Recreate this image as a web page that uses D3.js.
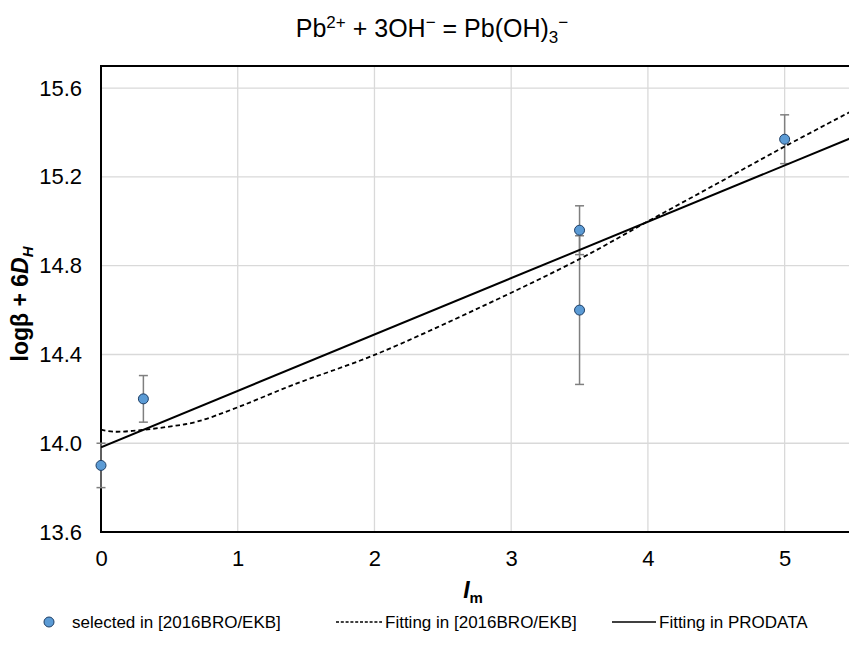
<!DOCTYPE html>
<html>
<head>
<meta charset="utf-8">
<script src="https://cdn.jsdelivr.net/npm/d3@7"></script>
<style>
  html, body { margin: 0; padding: 0; background: #fff; }
  svg { display: block; font-family: "Liberation Sans", Arial, sans-serif; }
</style>
</head>
<body>
<svg id="chart" width="849" height="649"></svg>
<script>
// ---- data ----
const pointI      = [0, 0.31, 3.5, 3.5, 5.0];
const pointLogB   = [13.90, 14.20, 14.96, 14.60, 15.37];
const pointErr    = [0.10, 0.105, 0.11, 0.335, 0.11];

const dashedI     = [0, 0.1, 0.3, 0.5, 0.7, 1.0, 1.4, 2.0, 2.8, 3.5, 4.0, 4.5, 5.0, 5.5];
const dashedLogB  = [14.061, 14.052, 14.060, 14.075, 14.097, 14.162, 14.262, 14.398, 14.62, 14.83, 15.0, 15.168, 15.337, 15.50];

const solidI      = [0, 5.5];
const solidLogB   = [13.982, 15.379];

const xTicks      = [0, 1, 2, 3, 4, 5];
const yTicks      = [13.6, 14.0, 14.4, 14.8, 15.2, 15.6];

const legendLabels = ["selected in [2016BRO/EKB]", "Fitting in [2016BRO/EKB]", "Fitting in PRODATA"];

(function () {
// ---- layout ----
const svg = d3.select("#chart");
const pL = 101, pR = 853, pT = 66, pB = 532;

const x = d3.scaleLinear().domain([0, 5.5]).range([pL, pR]);
const y = d3.scaleLinear().domain([13.6, 15.7]).range([pB, pT]);

// gridlines
const grid = svg.append("g");
grid.selectAll("line.vx").data(xTicks.filter(d => d > 0)).enter().append("line")
  .attr("x1", d => x(d)).attr("x2", d => x(d)).attr("y1", pT).attr("y2", pB)
  .attr("stroke", "#d9d9d9").attr("stroke-width", 1.3);
grid.selectAll("line.hy").data(yTicks.filter(d => d > 13.6)).enter().append("line")
  .attr("x1", pL).attr("x2", pR).attr("y1", d => y(d)).attr("y2", d => y(d))
  .attr("stroke", "#d9d9d9").attr("stroke-width", 1.3);

// axes (labels only, frame drawn separately)
const xAxis = svg.append("g").attr("transform", `translate(0,${pB})`)
  .call(d3.axisBottom(x).tickValues(xTicks).tickSize(0).tickPadding(18).tickFormat(d3.format("d")));
xAxis.select(".domain").remove();
xAxis.selectAll("text").attr("font-size", 22).attr("fill", "#000")
  .attr("font-family", "Liberation Sans, Arial, sans-serif");

const yAxis = svg.append("g").attr("transform", `translate(${pL},0)`)
  .call(d3.axisLeft(y).tickValues(yTicks).tickSize(0).tickPadding(19).tickFormat(d3.format(".1f")));
yAxis.select(".domain").remove();
yAxis.selectAll("text").attr("font-size", 22).attr("fill", "#000")
  .attr("font-family", "Liberation Sans, Arial, sans-serif");

// frame
svg.append("rect").attr("x", pL).attr("y", pT)
  .attr("width", pR - pL).attr("height", pB - pT)
  .attr("fill", "none").attr("stroke", "#000").attr("stroke-width", 2);

// error bars
const pts = pointI.map((d, i) => ({ I: d, v: pointLogB[i], e: pointErr[i] }));
const eb = svg.append("g").attr("stroke", "#7f7f7f").attr("stroke-width", 1.5);
pts.forEach(p => {
  eb.append("line").attr("x1", x(p.I)).attr("x2", x(p.I)).attr("y1", y(p.v - p.e)).attr("y2", y(p.v + p.e));
  [p.v - p.e, p.v + p.e].forEach(v => {
    eb.append("line").attr("x1", x(p.I) - 4.5).attr("x2", x(p.I) + 4.5).attr("y1", y(v)).attr("y2", y(v));
  });
});

// fitted curves
svg.append("clipPath").attr("id", "plotclip").append("rect")
  .attr("x", pL).attr("y", pT).attr("width", pR - pL).attr("height", pB - pT);

const line = d3.line().x(d => x(d[0])).y(d => y(d[1])).curve(d3.curveCatmullRom);
svg.append("path").datum(dashedI.map((d, i) => [d, dashedLogB[i]]))
  .attr("d", line).attr("fill", "none").attr("stroke", "#000").attr("stroke-width", 1.8)
  .attr("stroke-dasharray", "4.5,3").attr("clip-path", "url(#plotclip)");
svg.append("path").datum(solidI.map((d, i) => [d, solidLogB[i]]))
  .attr("d", d3.line().x(d => x(d[0])).y(d => y(d[1]))).attr("fill", "none")
  .attr("stroke", "#000").attr("stroke-width", 2).attr("clip-path", "url(#plotclip)");

// points
svg.append("g").selectAll("circle").data(pts).enter().append("circle")
  .attr("cx", d => x(d.I)).attr("cy", d => y(d.v)).attr("r", 5)
  .attr("fill", "#5b9bd5").attr("stroke", "#1f3f66").attr("stroke-width", 1);

// title
const title = svg.append("text").attr("x", 432).attr("y", 37).attr("text-anchor", "middle")
  .attr("font-size", 25).attr("fill", "#000");
title.append("tspan").text("Pb");
title.append("tspan").attr("font-size", 17).attr("dy", -9).text("2+");
title.append("tspan").attr("dy", 9).text(" + 3OH");
title.append("tspan").attr("font-size", 17).attr("dy", -9).text("−");
title.append("tspan").attr("dy", 9).text(" = Pb(OH)");
title.append("tspan").attr("font-size", 17).attr("dy", 6).text("3");
title.append("tspan").attr("font-size", 17).attr("dx", 0).attr("dy", -15).text("−");

// x axis title
const xt = svg.append("text").attr("x", 473).attr("y", 598).attr("text-anchor", "middle")
  .attr("font-size", 23).attr("font-weight", "bold").attr("fill", "#000");
xt.append("tspan").attr("font-style", "italic").text("I");
xt.append("tspan").attr("font-size", 15).attr("dy", 5).text("m");

// y axis title
const yt = svg.append("text").attr("transform", "translate(28,304) rotate(-90)")
  .attr("text-anchor", "middle").attr("font-size", 23).attr("font-weight", "bold").attr("fill", "#000");
yt.append("tspan").text("logβ + 6");
yt.append("tspan").attr("font-style", "italic").text("D");
yt.append("tspan").attr("font-style", "italic").attr("font-size", 15).attr("dy", 5).text("H");

// legend
const ly = 622;
const lg = svg.append("g").attr("font-size", 17).attr("fill", "#000");
lg.append("circle").attr("cx", 49).attr("cy", ly).attr("r", 5)
  .attr("fill", "#5b9bd5").attr("stroke", "#1f3f66").attr("stroke-width", 1);
lg.append("text").attr("x", 72).attr("y", ly + 6).text(legendLabels[0]);
lg.append("line").attr("x1", 336).attr("x2", 382).attr("y1", ly).attr("y2", ly)
  .attr("stroke", "#000").attr("stroke-width", 1.5).attr("stroke-dasharray", "3,1.8");
lg.append("text").attr("x", 385).attr("y", ly + 6).text(legendLabels[1]);
lg.append("line").attr("x1", 612).attr("x2", 656).attr("y1", ly).attr("y2", ly)
  .attr("stroke", "#000").attr("stroke-width", 1.5);
lg.append("text").attr("x", 659).attr("y", ly + 6).text(legendLabels[2]);
})();
</script>
</body>
</html>
